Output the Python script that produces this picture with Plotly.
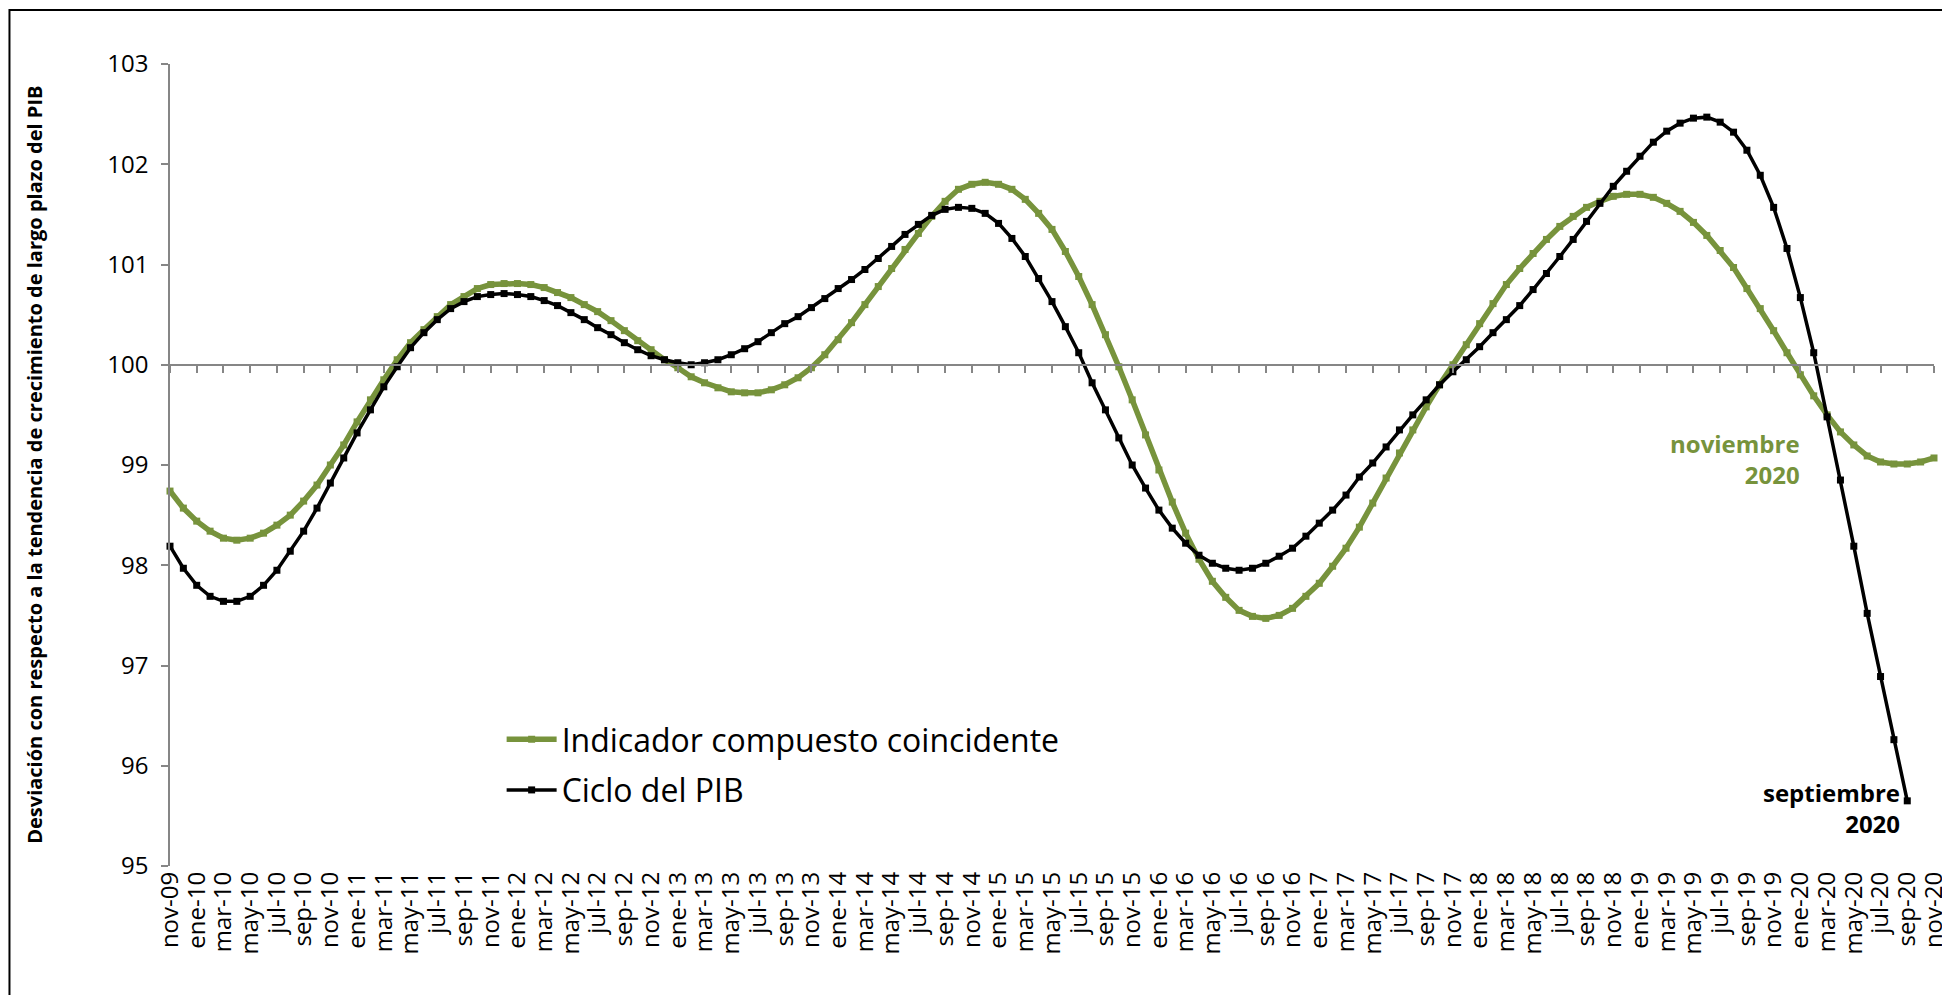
import plotly.graph_objects as go

# Meses (nov-09 .. nov-20)
MES_ABREV = ["ene", "feb", "mar", "abr", "may", "jun", "jul", "ago", "sep", "oct", "nov", "dic"]
MONTHS = []
for anio in range(2009, 2021):
    for m in range(12):
        if (anio == 2009 and m < 10) or (anio == 2020 and m > 10):
            continue
        MONTHS.append(f"{MES_ABREV[m]}-{anio % 100:02d}")

# Indicador compuesto coincidente (nov-09 .. nov-20)
INDICADOR = [
    98.74, 98.57, 98.44, 98.34, 98.27, 98.25, 98.27, 98.32, 98.40, 98.50,
    98.64, 98.80, 99.00, 99.20, 99.43, 99.65, 99.85, 100.05, 100.22, 100.35,
    100.48, 100.60, 100.68, 100.76, 100.80, 100.81, 100.81, 100.80, 100.77, 100.72,
    100.67, 100.60, 100.53, 100.44, 100.34, 100.24, 100.15, 100.05, 99.97, 99.88,
    99.82, 99.77, 99.73, 99.72, 99.72, 99.75, 99.80, 99.87, 99.97, 100.10,
    100.25, 100.42, 100.60, 100.78, 100.96, 101.15, 101.31, 101.48, 101.63, 101.75,
    101.80, 101.82, 101.80, 101.75, 101.65, 101.51, 101.35, 101.13, 100.88, 100.60,
    100.30, 99.98, 99.65, 99.30, 98.95, 98.63, 98.32, 98.06, 97.84, 97.68,
    97.55, 97.49, 97.47, 97.50, 97.57, 97.69, 97.82, 97.99, 98.17, 98.38,
    98.62, 98.87, 99.12, 99.35, 99.58, 99.80, 100.00, 100.20, 100.41, 100.61,
    100.80, 100.96, 101.11, 101.25, 101.38, 101.48, 101.57, 101.63, 101.68, 101.70,
    101.70, 101.67, 101.61, 101.53, 101.42, 101.29, 101.14, 100.97, 100.76, 100.56,
    100.34, 100.12, 99.90, 99.69, 99.50, 99.33, 99.20, 99.09, 99.03, 99.01,
    99.01, 99.03, 99.07,
]

# Ciclo del PIB (nov-09 .. sep-20)
CICLO_PIB = [
    98.19, 97.97, 97.80, 97.69, 97.64, 97.64, 97.69, 97.80, 97.95, 98.14,
    98.34, 98.57, 98.82, 99.07, 99.32, 99.55, 99.78, 99.98, 100.17, 100.32,
    100.45, 100.56, 100.63, 100.68, 100.70, 100.71, 100.70, 100.68, 100.64, 100.59,
    100.52, 100.45, 100.37, 100.30, 100.22, 100.15, 100.09, 100.05, 100.02, 100.00,
    100.02, 100.05, 100.10, 100.16, 100.23, 100.32, 100.41, 100.48, 100.57, 100.66,
    100.76, 100.85, 100.95, 101.06, 101.18, 101.30, 101.40, 101.49, 101.55, 101.57,
    101.56, 101.51, 101.41, 101.26, 101.08, 100.86, 100.63, 100.38, 100.12, 99.82,
    99.55, 99.27, 99.00, 98.77, 98.55, 98.37, 98.22, 98.10, 98.02, 97.97,
    97.95, 97.97, 98.02, 98.09, 98.17, 98.29, 98.42, 98.55, 98.70, 98.88,
    99.02, 99.18, 99.35, 99.50, 99.65, 99.80, 99.93, 100.05, 100.18, 100.32,
    100.45, 100.59, 100.75, 100.91, 101.08, 101.25, 101.43, 101.61, 101.78, 101.93,
    102.08, 102.22, 102.33, 102.41, 102.46, 102.47, 102.42, 102.32, 102.14, 101.89,
    101.57, 101.16, 100.67, 100.12, 99.48, 98.85, 98.19, 97.52, 96.89, 96.26,
    95.65,
]

TICK_MONTHS = MONTHS[::2]

GREEN = "#77933C"
AXIS_GREY = "#868686"
FONT = "Open Sans"

fig = go.Figure()

fig.add_trace(go.Scatter(
    x=MONTHS, y=INDICADOR,
    name="Indicador compuesto coincidente",
    mode="lines+markers",
    line=dict(color=GREEN, width=5.5),
    marker=dict(symbol="square", size=7, color=GREEN),
    cliponaxis=False,
    legendgroup="a",
))

fig.add_trace(go.Scatter(
    x=MONTHS[:len(CICLO_PIB)], y=CICLO_PIB,
    name="Ciclo del PIB",
    mode="lines+markers",
    line=dict(color="black", width=3.5),
    marker=dict(symbol="square", size=7, color="black"),
    cliponaxis=False,
    legendgroup="b",
))

# eje auxiliar: línea horizontal en 100 con sus marcas
fig.add_trace(go.Scatter(
    x=MONTHS, y=[None] * len(MONTHS),
    xaxis="x2", showlegend=False, hoverinfo="skip",
))

fig.add_annotation(
    text="<b>Desviación con respecto a la tendencia de crecimiento de largo plazo del PIB</b>",
    xref="paper", yref="paper", x=-0.086, y=0.5,
    textangle=-90, showarrow=False,
    font=dict(family=FONT, size=20, color="black"),
)
fig.add_annotation(
    text="<b>noviembre<br>2020</b>",
    xref="paper", yref="paper", x=0.9252, y=0.507,
    xanchor="right", yanchor="middle", align="right", showarrow=False,
    font=dict(family=FONT, size=24, color=GREEN),
)
fig.add_annotation(
    text="<b>septiembre<br>2020</b>",
    xref="paper", yref="paper", x=0.982, y=0.072,
    xanchor="right", yanchor="middle", align="right", showarrow=False,
    font=dict(family=FONT, size=24, color="black"),
)

# marco exterior
fig.add_shape(
    type="rect", xref="paper", yref="paper",
    x0=-0.091, x1=1.03, y0=-0.25, y1=1.0673,
    line=dict(color="black", width=2),
)

# la página añade 8 px de margen: se compensa en los márgenes
fig.update_layout(
    width=1950, height=995,
    margin=dict(l=162, r=9, t=56, b=137),
    paper_bgcolor="white", plot_bgcolor="white",
    font=dict(family=FONT, color="black"),
    xaxis=dict(
        type="category", categoryarray=MONTHS, range=[0, len(MONTHS) - 1],
        tickmode="array", tickvals=TICK_MONTHS, ticktext=TICK_MONTHS,
        tickangle=-90, tickfont=dict(size=24, color="black"),
        showline=False, ticks="", showgrid=False, zeroline=False,
    ),
    xaxis2=dict(
        type="category", categoryarray=MONTHS, range=[0, len(MONTHS) - 1],
        overlaying="x", anchor="free", position=0.625,
        tickmode="array", tickvals=TICK_MONTHS,
        showticklabels=False, showline=True, linecolor=AXIS_GREY, linewidth=1.5,
        ticks="outside", ticklen=7, tickcolor=AXIS_GREY, tickwidth=1.5,
        showgrid=False, zeroline=False,
    ),
    yaxis=dict(
        range=[95, 103], dtick=1, tickfont=dict(size=24, color="black"),
        showline=True, linecolor=AXIS_GREY, linewidth=1.5,
        ticks="outside", ticklen=7, tickcolor=AXIS_GREY, tickwidth=1.5,
        ticklabelstandoff=8, showgrid=False, zeroline=False,
    ),
    legend=dict(
        x=0.188, y=0.192, xanchor="left", yanchor="top",
        bgcolor="rgba(0,0,0,0)", tracegroupgap=6, itemwidth=50,
        font=dict(family=FONT, size=32, color="black"),
    ),
    showlegend=True,
)

fig.write_html("out.html")
